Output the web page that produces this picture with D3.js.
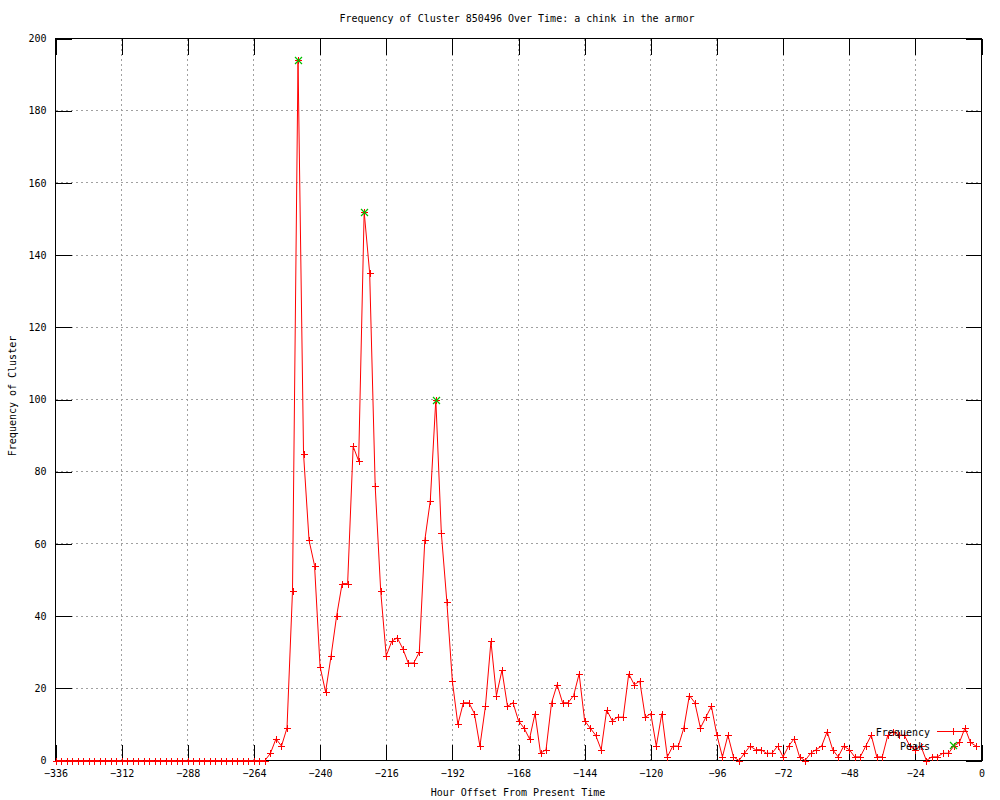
<!DOCTYPE html>
<html>
<head>
<meta charset="utf-8">
<script src="https://cdn.jsdelivr.net/npm/d3@7"></script>
<style>
  html, body { margin: 0; padding: 0; background: #ffffff; }
  svg { display: block; }
  text { font-family: "DejaVu Sans Mono", "Liberation Mono", monospace; font-size: 10px; fill: #000; }
</style>
</head>
<body>
<script>
// ---- data ----
const chartTitle = "Frequency of Cluster 850496 Over Time: a chink in the armor";
const xAxisLabel = "Hour Offset From Present Time";
const yAxisLabel = "Frequency of Cluster";
const seriesNames = ["Frequency", "Peaks"];

const xTicks = [-336, -312, -288, -264, -240, -216, -192, -168, -144, -120, -96, -72, -48, -24, 0];
const yTicks = [0, 20, 40, 60, 80, 100, 120, 140, 160, 180, 200];

// hourly offsets sampled every 2 hours, -336 .. -2
const hours = [
  -336,-334,-332,-330,-328,-326,-324,-322,-320,-318,-316,-314,-312,-310,-308,-306,-304,-302,-300,-298,
  -296,-294,-292,-290,-288,-286,-284,-282,-280,-278,-276,-274,-272,-270,-268,-266,-264,-262,-260,-258,
  -256,-254,-252,-250,-248,-246,-244,-242,-240,-238,-236,-234,-232,-230,-228,-226,-224,-222,-220,-218,
  -216,-214,-212,-210,-208,-206,-204,-202,-200,-198,-196,-194,-192,-190,-188,-186,-184,-182,-180,-178,
  -176,-174,-172,-170,-168,-166,-164,-162,-160,-158,-156,-154,-152,-150,-148,-146,-144,-142,-140,-138,
  -136,-134,-132,-130,-128,-126,-124,-122,-120,-118,-116,-114,-112,-110,-108,-106,-104,-102,-100,-98,
  -96,-94,-92,-90,-88,-86,-84,-82,-80,-78,-76,-74,-72,-70,-68,-66,-64,-62,-60,-58,
  -56,-54,-52,-50,-48,-46,-44,-42,-40,-38,-36,-34,-32,-30,-28,-26,-24,-22,-20,-18,
  -16,-14,-12,-10,-8,-6,-4,-2
];
const frequency = [
  0,0,0,0,0,0,0,0,0,0,0,0,0,0,0,0,0,0,0,0,
  0,0,0,0,0,0,0,0,0,0,0,0,0,0,0,0,0,0,0,2,
  6,4,9,47,194,85,61,54,26,19,29,40,49,49,87,83,152,135,76,47,
  29,33,34,31,27,27,30,61,72,100,63,44,22,10,16,16,13,4,15,33,
  18,25,15,16,11,9,6,13,2,3,16,21,16,16,18,24,11,9,7,3,
  14,11,12,12,24,21,22,12,13,4,13,1,4,4,9,18,16,9,12,15,
  7,1,7,1,0,2,4,3,3,2,2,4,1,4,6,1,0,2,3,4,
  8,3,1,4,3,1,1,4,7,1,1,7,8,7,7,4,3,4,0,1,
  1,2,2,4,5,9,5,4
];
const peakHours = [-248, -224, -198];
const peakValues = [194, 152, 100];

// ---- layout ----
const W = 1000, H = 800;
const svg = d3.select("body").append("svg").attr("width", W).attr("height", H);

const x = d3.scaleLinear().domain([-336, 0]).range([55.5, 981.5]);
const y = d3.scaleLinear().domain([0, 200]).range([760.5, 38.5]);
const x0 = x.range()[0], x1 = x.range()[1], y0 = y.range()[0], y1 = y.range()[1];
const tickLen = 16;

// grid
const grid = svg.append("g").attr("stroke", "#a0a0a0").attr("stroke-width", 1)
  .attr("stroke-dasharray", "2,3").attr("shape-rendering", "crispEdges");
grid.selectAll("line.vx").data(xTicks.filter(t => t !== -336 && t !== 0)).enter().append("line")
  .attr("x1", d => x(d)).attr("x2", d => x(d)).attr("y1", y1).attr("y2", y0);
grid.selectAll("line.hy").data(yTicks.filter(t => t !== 0 && t !== 200)).enter().append("line")
  .attr("x1", x0).attr("x2", x1).attr("y1", d => y(d)).attr("y2", d => y(d));

// axes via d3 axes (ticks inward, mirrored)
const axB = d3.axisBottom(x).tickValues(xTicks).tickSizeInner(-tickLen).tickSizeOuter(0).tickPadding(10).tickFormat(d3.format("d"));
const axT = d3.axisTop(x).tickValues(xTicks).tickSizeInner(-tickLen).tickSizeOuter(0).tickFormat("");
const axL = d3.axisLeft(y).tickValues(yTicks).tickSizeInner(-tickLen).tickSizeOuter(0).tickPadding(9).tickFormat(d3.format("d"));
const axR = d3.axisRight(y).tickValues(yTicks).tickSizeInner(-tickLen).tickSizeOuter(0).tickFormat("");

function styleAxis(g) {
  g.select(".domain").remove();
  g.selectAll(".tick line").attr("stroke", "#000").attr("shape-rendering", "crispEdges");
  g.selectAll(".tick text").attr("font-family", "DejaVu Sans Mono, monospace").attr("font-size", 10).attr("fill", "#000");
}
svg.append("g").attr("transform", `translate(0,${y0})`).call(axB).call(styleAxis)
  .selectAll(".tick text").attr("dy", null).attr("y", 16.5);
svg.append("g").attr("transform", `translate(0,${y1})`).call(axT).call(styleAxis);
svg.append("g").attr("transform", `translate(${x0},0)`).call(axL).call(styleAxis)
  .selectAll(".tick text").attr("dy", "0.32em").attr("x", -9);
svg.append("g").attr("transform", `translate(${x1},0)`).call(axR).call(styleAxis);

// border
svg.append("rect").attr("x", x0).attr("y", y1).attr("width", x1 - x0).attr("height", y0 - y1)
  .attr("fill", "none").attr("stroke", "#000").attr("shape-rendering", "crispEdges");

// frequency line
const pts = hours.map((h, i) => [h, frequency[i]]);
const line = d3.line().x(d => x(d[0])).y(d => y(d[1]));
svg.append("path").datum(pts).attr("d", line)
  .attr("fill", "none").attr("stroke", "#ff0000").attr("stroke-width", 1);

function plusPath(cx, cy, r) {
  return `M${cx - r},${cy}H${cx + r}M${cx},${cy - r}V${cy + r}`;
}
function crossPath(cx, cy, r) {
  return `M${cx - r},${cy - r}L${cx + r},${cy + r}M${cx - r},${cy + r}L${cx + r},${cy - r}`;
}
svg.append("g").selectAll("path").data(pts).enter().append("path")
  .attr("d", d => plusPath(Math.round(x(d[0])) + 0.5, Math.round(y(d[1])) + 0.5, 3.5))
  .attr("stroke", "#ff0000").attr("stroke-width", 1).attr("fill", "none")
  .attr("shape-rendering", "crispEdges");

// peaks
const peaks = peakHours.map((h, i) => [h, peakValues[i]]);
svg.append("g").selectAll("path").data(peaks).enter().append("path")
  .attr("d", d => crossPath(Math.round(x(d[0])) + 0.5, Math.round(y(d[1])) + 0.5, 3.5))
  .attr("stroke", "#00c000").attr("stroke-width", 1.2).attr("fill", "none");

// legend
const lg = svg.append("g");
lg.append("text").attr("x", 930).attr("y", 736).attr("text-anchor", "end").text(seriesNames[0]);
lg.append("line").attr("x1", 937).attr("x2", 968).attr("y1", 731.5).attr("y2", 731.5)
  .attr("stroke", "#ff0000").attr("shape-rendering", "crispEdges");
lg.append("path").attr("d", plusPath(953.5, 731.5, 3.5)).attr("stroke", "#ff0000")
  .attr("shape-rendering", "crispEdges");
lg.append("text").attr("x", 930).attr("y", 750).attr("text-anchor", "end").text(seriesNames[1]);
lg.append("path").attr("d", crossPath(953.5, 745.5, 3.5)).attr("stroke", "#00c000")
  .attr("stroke-width", 1.2).attr("fill", "none");

// titles
svg.append("text").attr("x", 517).attr("y", 22).attr("text-anchor", "middle").text(chartTitle);
svg.append("text").attr("x", 518).attr("y", 796).attr("text-anchor", "middle").text(xAxisLabel);
svg.append("text").attr("transform", "translate(16,396) rotate(-90)").attr("text-anchor", "middle")
  .text(yAxisLabel);
</script>
</body>
</html>
